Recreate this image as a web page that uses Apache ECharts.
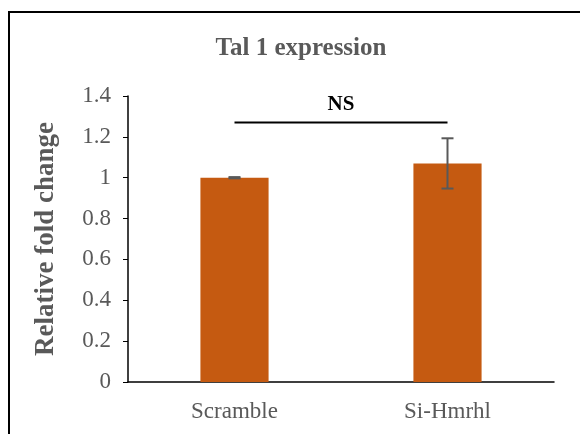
<!DOCTYPE html>
<html>
<head>
<meta charset="utf-8">
<script src="https://cdn.jsdelivr.net/npm/echarts@6/dist/echarts.min.js"></script>
<style>
html,body{margin:0;padding:0;background:#fff;}
#chart{width:580px;height:434px;}
</style>
</head>
<body>
<div id="chart"></div>
<script>
// Tal 1 expression: relative fold change, mean with error
const categories = ['Scramble', 'Si-Hmrhl'];
const foldChange = [1.0, 1.07];
const errorSize = [0.003, 0.123];
const yTicks = [0, 0.2, 0.4, 0.6, 0.8, 1, 1.2, 1.4];
const nsLevel = 1.27;
const nsText = 'NS';

const serif = '"Liberation Serif", "Times New Roman", serif';
const grey = '#595959';

const chart = echarts.init(document.getElementById('chart'));

const errorData = categories.map((c, i) => [i, foldChange[i] - errorSize[i], foldChange[i] + errorSize[i]]);

chart.setOption({
  animation: false,
  title: {
    text: 'Tal 1 expression',
    left: 296, top: 31, textAlign: 'center',
    textStyle: { fontFamily: serif, fontWeight: 'bold', fontSize: 25, color: grey }
  },
  graphic: [{
    type: 'rect',
    shape: { x: 9, y: 12, width: 600, height: 460 },
    style: { fill: 'none', stroke: '#000', lineWidth: 2 },
    silent: true
  }],
  grid: { left: 128, right: 26, top: 96, bottom: 52 },
  xAxis: {
    type: 'category',
    data: categories,
    axisLine: { lineStyle: { color: '#000', width: 1.5 } },
    axisTick: { show: false },
    axisLabel: { fontFamily: serif, fontSize: 23, color: grey, margin: 18 }
  },
  yAxis: {
    type: 'value',
    min: 0, max: 1.4, interval: 0.2,
    name: 'Relative fold change',
    nameLocation: 'middle',
    nameGap: 68,
    nameTextStyle: { fontFamily: serif, fontWeight: 'bold', fontSize: 27, color: grey },
    axisLine: { show: true, lineStyle: { color: '#000', width: 1.5 } },
    axisTick: { show: true, length: 5, lineStyle: { color: '#000' } },
    axisLabel: {
      fontFamily: serif, fontSize: 23, color: grey, margin: 17,
      formatter: v => yTicks.includes(+v.toFixed(1)) ? String(+v.toFixed(1)) : ''
    },
    splitLine: { show: false }
  },
  series: [
    {
      type: 'bar',
      data: foldChange,
      barWidth: '32%',
      itemStyle: { color: '#C55A11' }
    },
    {
      type: 'custom',
      data: errorData,
      z: 5,
      renderItem: function (params, api) {
        const x = api.value(0);
        const lo = api.coord([x, api.value(1)]);
        const hi = api.coord([x, api.value(2)]);
        const half = 6;
        const style = { stroke: grey, lineWidth: 2 };
        return {
          type: 'group',
          children: [
            { type: 'line', shape: { x1: lo[0], y1: lo[1], x2: hi[0], y2: hi[1] }, style },
            { type: 'line', shape: { x1: lo[0] - half, y1: lo[1], x2: lo[0] + half, y2: lo[1] }, style },
            { type: 'line', shape: { x1: hi[0] - half, y1: hi[1], x2: hi[0] + half, y2: hi[1] }, style }
          ]
        };
      }
    },
    {
      type: 'custom',
      data: [[0, 1, nsLevel]],
      z: 5,
      renderItem: function (params, api) {
        const a = api.coord([api.value(0), api.value(2)]);
        const b = api.coord([api.value(1), api.value(2)]);
        return {
          type: 'group',
          children: [
            { type: 'line', shape: { x1: a[0], y1: a[1], x2: b[0], y2: b[1] }, style: { stroke: '#000', lineWidth: 2 } },
            { type: 'text', style: { text: nsText, x: (a[0] + b[0]) / 2, y: a[1] - 7, align: 'center', verticalAlign: 'bottom',
              font: 'bold 21px ' + serif, fill: '#000' } }
          ]
        };
      }
    }
  ]
});
</script>
</body>
</html>
